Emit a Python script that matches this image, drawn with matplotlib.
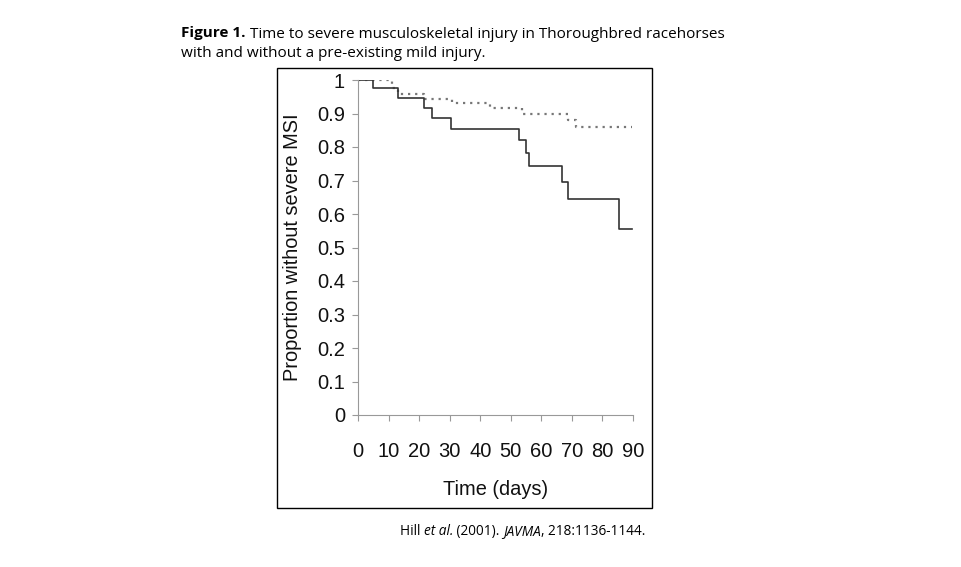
import matplotlib.pyplot as plt
from matplotlib.patches import Rectangle

# Kaplan-Meier steps
days_mild = [0, 5.0, 13.2, 21.7, 24.1, 30.3, 52.7, 54.9, 56.0, 66.9, 68.8, 85.5, 89.6]
surv_mild = [1.0, 0.975, 0.945, 0.917, 0.886, 0.854, 0.820, 0.783, 0.744, 0.695, 0.646, 0.554, 0.554]

days_none = [0, 11.0, 13.2, 21.7, 30.7, 43.2, 53.8, 68.8, 71.3, 89.6]
surv_none = [1.0, 0.975, 0.958, 0.943, 0.930, 0.915, 0.898, 0.881, 0.861, 0.861]

x_ticks = [0, 10, 20, 30, 40, 50, 60, 70, 80, 90]
y_ticks = [0, 0.1, 0.2, 0.3, 0.4, 0.5, 0.6, 0.7, 0.8, 0.9, 1]
y_labels = ['0', '0.1', '0.2', '0.3', '0.4', '0.5', '0.6', '0.7', '0.8', '0.9', '1']

fig = plt.figure(figsize=(9.61, 5.67), dpi=100)

# frame round the plot
fig.patches.append(Rectangle((277 / 961, 1 - 508 / 567), 375 / 961, 440 / 567,
                             transform=fig.transFigure, fill=False,
                             edgecolor='black', linewidth=1.0))

ax = fig.add_axes([358 / 961, 1 - 415 / 567, 275 / 961, 335 / 567])

ax.step(days_none, surv_none, where='post', color='#777777',
        linewidth=1.6, linestyle=(0, (1, 2.2)))
ax.step(days_mild, surv_mild, where='post', color='#333333', linewidth=1.2)

ax.set_xlim(0, 90)
ax.set_ylim(0, 1)
ax.set_xticks(x_ticks)
ax.set_yticks(y_ticks)
ax.set_yticklabels(y_labels)

for side in ['top', 'right']:
    ax.spines[side].set_visible(False)
for side in ['left', 'bottom']:
    ax.spines[side].set_color('#999999')
    ax.spines[side].set_linewidth(0.8)

ax.tick_params(axis='both', colors='#999999', labelcolor='#111111',
               labelsize=14.5, length=4.3, width=0.8,
               labelfontfamily='Liberation Sans')
ax.tick_params(axis='x', pad=15)
ax.tick_params(axis='y', pad=5)

ax.set_xlabel('Time (days)', fontsize=14.4, family='Liberation Sans',
              color='#111111')
ax.set_ylabel('Proportion without severe MSI', fontsize=14.4,
              family='Liberation Sans', color='#111111')
ax.xaxis.set_label_coords(0.5, -0.194)
ax.yaxis.set_label_coords(-0.205, 0.5)

# title and citation, pieced together so the styles can change mid-line
renderer = fig.canvas.get_renderer()


def put_pieces(pieces, x0, y0, size):
    x = x0
    for txt, weight, style in pieces:
        t = fig.text(x, y0, txt, fontsize=size, family='Open Sans',
                     weight=weight, style=style, va='baseline', ha='left')
        w = t.get_window_extent(renderer=renderer).width
        x += w / fig.bbox.width


put_pieces([('Figure 1.', 'bold', 'normal'),
            (' Time to severe musculoskeletal injury in Thoroughbred racehorses', 'normal', 'normal')],
           181 / 961, 1 - 37.5 / 567, 11)
put_pieces([('with and without a pre-existing mild injury.', 'normal', 'normal')],
           181 / 961, 1 - 57 / 567, 11)
put_pieces([('Hill ', 'normal', 'normal'),
            ('et al.', 'normal', 'italic'),
            (' (2001). ', 'normal', 'normal'),
            ('JAVMA', 'normal', 'italic'),
            (', 218:1136-1144.', 'normal', 'normal')],
           400 / 961, 1 - 535 / 567, 9.8)

fig.savefig('out.png', dpi=100)
